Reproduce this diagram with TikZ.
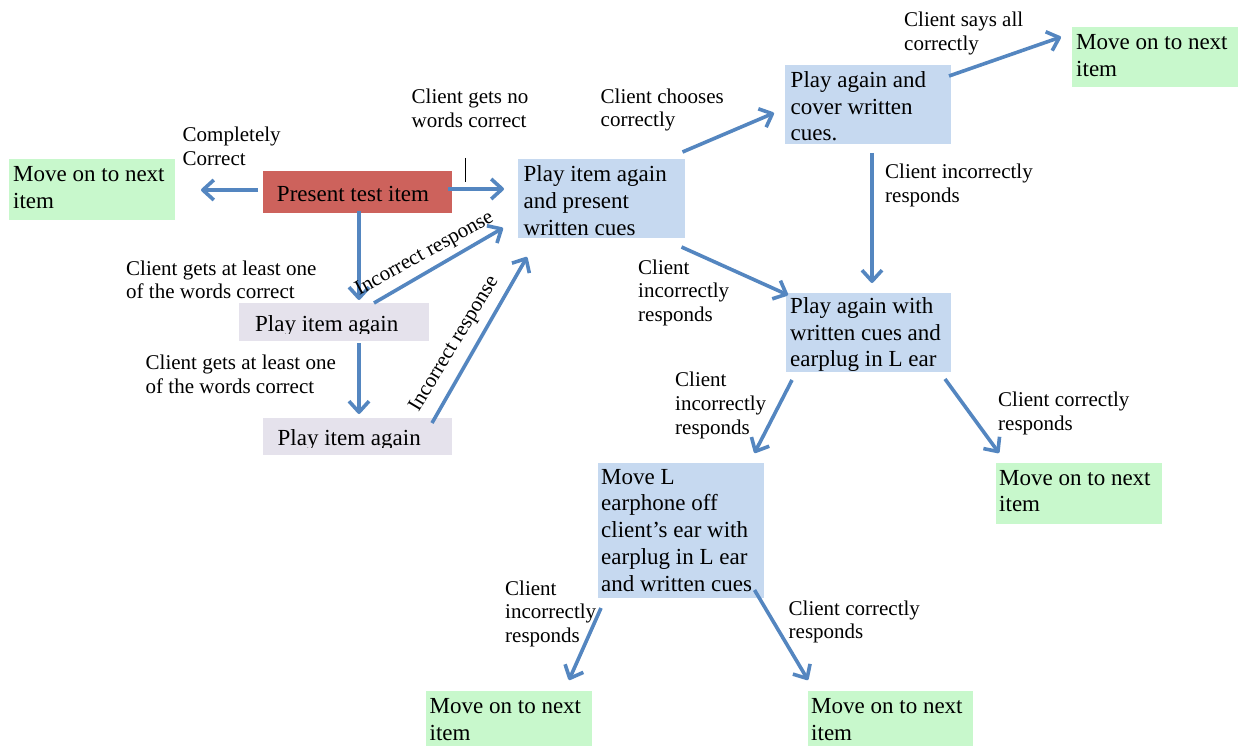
\documentclass[tikz,border=0pt]{standalone}
\usepackage{fontspec}
\setmainfont{Liberation Serif}
\usetikzlibrary{arrows.meta,calc}
\definecolor{boxblue}{RGB}{198,217,240}
\definecolor{boxgreen}{RGB}{200,248,204}
\definecolor{boxred}{RGB}{205,98,92}
\definecolor{boxgray}{RGB}{229,226,236}
\definecolor{arrowblue}{RGB}{84,134,192}
\tikzset{
  box/.style={anchor=north west, inner sep=0pt, outer sep=0pt, draw=none},
  bluebox/.style={box, fill=boxblue},
  greenbox/.style={box, fill=boxgreen},
  redbox/.style={box, fill=boxred},
  graybox/.style={box, fill=boxgray},
  btxt/.style={anchor=base west, inner sep=0pt, align=left, font=\fontsize{23}{26.8}\selectfont},
  lab/.style={anchor=base west, inner sep=0pt, align=left, font=\fontsize{21}{23.7}\selectfont},
  rlab/.style={anchor=base, inner sep=0pt, font=\fontsize{21}{23.7}\selectfont},
  arr/.style={draw=arrowblue, line width=3.6pt, line join=round, -{Straight Barb[length=11pt,width=20pt,line join=round]}}
}
\begin{document}
\begin{tikzpicture}[x=1pt,y=-1pt]
\useasboundingbox (0,0) rectangle (1238,746);
\fill[white] (0,0) rectangle (1238,746);

% boxes
\node[redbox,  minimum width=189pt, minimum height=42pt]  (present) at (263,171) {};
\node[greenbox,minimum width=166pt, minimum height=61pt]  (lg) at (9,159) {};
\node[bluebox, minimum width=167pt, minimum height=79pt]  (b3) at (518,159) {};
\node[bluebox, minimum width=166pt, minimum height=79pt]  (b4) at (785,65) {};
\node[greenbox,minimum width=166pt, minimum height=60pt]  (g1) at (1072,27) {};
\node[graybox, minimum width=190pt, minimum height=38pt]  (p1) at (239,303) {};
\node[graybox, minimum width=189pt, minimum height=37pt]  (p2) at (263,418) {};
\node[bluebox, minimum width=165pt, minimum height=79pt]  (b8) at (786,293) {};
\node[greenbox,minimum width=166pt, minimum height=61pt]  (g2) at (996,463) {};
\node[bluebox, minimum width=166pt, minimum height=135pt] (b10) at (598,463) {};
\node[greenbox,minimum width=166pt, minimum height=55pt]  (g3) at (426,691) {};
\node[greenbox,minimum width=165pt, minimum height=55pt]  (g4) at (808,691) {};

% box texts (anchor at baseline of the last line)
\node[btxt, anchor=base] (tpresent) at ($(present.north)+(-4.5,30.7)$) {Present test item};
\node[btxt] (tlg) at ($(lg.north west)+(4,49.3)$) {Move on to next\\item};
\node[btxt] (tb3) at ($(b3.north west)+(5.5,76.3)$) {Play item again\\and present\\written cues};
\node[btxt] (tb4) at ($(b4.north west)+(5.5,75.9)$) {Play again and\\cover written\\cues.};
\node[btxt] (tg1) at ($(g1.north west)+(4,49.1)$) {Move on to next\\item};
\begin{scope}
  \clip (239,303) rectangle (429,333.5);
  \node[btxt] (tp1) at ($(p1.north west)+(16,28.7)$) {Play item again};
\end{scope}
\begin{scope}
  \clip (263,418) rectangle (452,447.5);
  \node[btxt] (tp2) at ($(p2.north west)+(14.5,27.7)$) {Play item again};
\end{scope}
\node[btxt] (tb8) at ($(b8.north west)+(4,73.9)$) {Play again with\\written cues and\\earplug in L ear};
\node[btxt] (tg2) at ($(g2.north west)+(3,48.8)$) {Move on to next\\item};
\node[btxt] (tb10) at ($(b10.north west)+(3,128.2)$) {Move L\\earphone off\\client’s ear with\\earplug in L ear\\and written cues};
\node[btxt] (tg3) at ($(g3.north west)+(3.5,49.1)$) {Move on to next\\item};
\node[btxt] (tg4) at ($(g4.north west)+(3,49.1)$) {Move on to next\\item};

% arrows
\draw[arr] ($(present.west)+(-5,-2)$) -- ($(lg.east)+(26,0.5)$);
\draw[arr] ($(present.east)+(-4,-3)$) -- ($(b3.west)+(-14,-9.5)$);
\draw[arr] ($(present.south)+(1.5,-2)$) -- ($(p1.north)+(25,-3)$);
\draw[arr] ($(p1.north)+(40,0)$) -- ($(b3.south west)+(-15,-10)$);
\draw[arr] ($(p1.south)+(25,2)$) -- ($(p2.north)+(1.5,-4)$);
\draw[arr] ($(p2.north east)+(-20,5)$) -- ($(b3.south west)+(9,19)$);
\draw[arr] ($(b3.north east)+(-2.5,-7)$) -- ($(b4.west)+(-11,8.5)$);
\draw[arr] ($(b4.north east)+(-2,11)$) -- ($(g1.west)+(-11,-20)$);
\draw[arr] ($(b4.south)+(4,9)$) -- ($(b8.north)+(3.5,-10)$);
\draw[arr] ($(b3.south east)+(-3.5,9)$) -- ($(b8.north west)+(2,2)$);
\draw[arr] ($(b8.south west)+(6,8)$) -- ($(b10.north east)+(-9.5,-10)$);
\draw[arr] ($(b8.south east)+(-6,7)$) -- ($(g2.north west)+(3,-10)$);
\draw[arr] ($(b10.south west)+(3,10)$) -- ($(g3.north east)+(-23,-11)$);
\draw[arr] ($(b10.south east)+(-9.5,-8)$) -- ($(g4.north west)+(0,-11)$);

% labels (anchor at baseline of the last line)
\node[lab] (l1) at (411.5,127.7) {Client gets no\\words correct};
\node[lab] (l2) at (182.5,165.4) {Completely\\Correct};
\node[lab] (l3) at (126,298.7) {Client gets at least one\\of the words correct};
\node[lab] (l4) at (145.5,393) {Client gets at least one\\of the words correct};
\node[lab] (l5) at (600.5,127) {Client chooses\\correctly};
\node[lab] (l6) at (904,50.4) {Client says all\\correctly};
\node[lab] (l7) at (885,202) {Client incorrectly\\responds};
\node[lab] (l8) at (638,321.4) {Client\\incorrectly\\responds};
\node[lab] (l9) at (675,434.1) {Client\\incorrectly\\responds};
\node[lab] (l10) at (998,430.4) {Client correctly\\responds};
\node[lab] (l11) at (505,642.4) {Client\\incorrectly\\responds};
\node[lab] (l12) at (788.5,638.7) {Client correctly\\responds};
\node[rlab, rotate=29] (r1) at (427,258.4) {Incorrect response};
\node[rlab, rotate=59] (r2) at (458.5,346.5) {Incorrect response};

% text cursor
\draw[line width=1.3pt] (465.5,158) -- (465.5,182);
\end{tikzpicture}
\end{document}
